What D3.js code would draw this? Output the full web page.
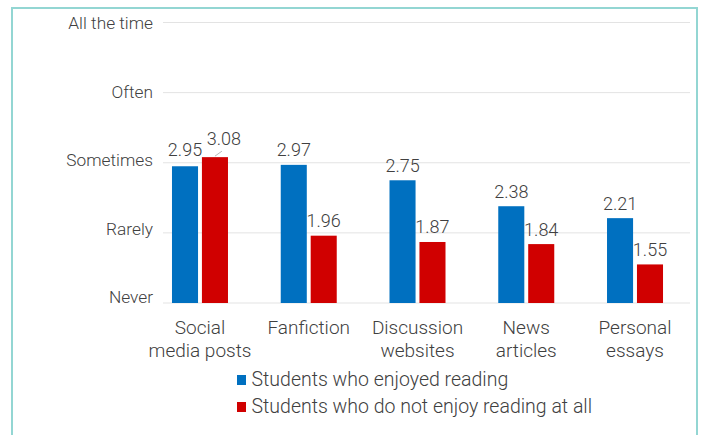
<!DOCTYPE html>
<html>
<head>
<meta charset="utf-8">
<script src="https://cdn.jsdelivr.net/npm/d3@7"></script>
<style>
  body { margin: 0; background: #fff; }
  text { font-family: Roboto, "Noto Sans", sans-serif; font-weight: 300; fill: #404040; }
</style>
</head>
<body>
<script>
// categories and series
var categories = [["Social", "media posts"], ["Fanfiction"], ["Discussion", "websites"], ["News", "articles"], ["Personal", "essays"]];
var enjoyed = [2.95, 2.97, 2.75, 2.38, 2.21];
var notEnjoy = [3.08, 1.96, 1.87, 1.84, 1.55];
var seriesNames = ["Students who enjoyed reading", "Students who do not enjoy reading at all"];
var seriesColors = ["#0070c0", "#d00000"];
var tickValues = [1, 2, 3, 4, 5];
var tickLabels = ["Never", "Rarely", "Sometimes", "Often", "All the time"];

var width = 702, height = 435;

var svg = d3.select("body").append("svg")
    .attr("width", width)
    .attr("height", height);

// outer frame
svg.append("rect")
    .attr("x", 12).attr("y", 8)
    .attr("width", 685).attr("height", 440)
    .attr("fill", "none")
    .attr("stroke", "#93d6d3")
    .attr("stroke-width", 2);

var y = d3.scaleLinear().domain([1, 5]).range([303, 22.5]);
// tick labels sit on a slightly tighter spacing than the gridlines
var yLab = d3.scaleLinear().domain([1, 5]).range([297, 23]);
var x = d3.scaleBand().domain(d3.range(categories.length)).range([145.6, 689.4]);
var inner = d3.scaleBand().domain([0, 1]).range([0, 56]).paddingInner(0.13);

// gridlines
svg.selectAll(".grid")
    .data(tickValues)
    .enter().append("line")
    .attr("x1", 163).attr("x2", 690)
    .attr("y1", function(d) { return y(d); })
    .attr("y2", function(d) { return y(d); })
    .attr("stroke", "#e3e3e3")
    .attr("stroke-width", 1);

// y tick labels
svg.selectAll(".ylab")
    .data(tickValues)
    .enter().append("text")
    .attr("x", 153)
    .attr("y", function(d) { return yLab(d); })
    .attr("dy", "0.35em")
    .attr("text-anchor", "end")
    .style("font-size", "17.3px")
    .text(function(d, i) { return tickLabels[i]; });

var series = [enjoyed, notEnjoy];
var bars = [];
series.forEach(function(vals, s) {
  vals.forEach(function(v, i) {
    bars.push({ s: s, i: i, v: v });
  });
});

function barX(d) { return x(d.i) + x.bandwidth() / 2 - 28 + inner(d.s); }

svg.selectAll(".bar")
    .data(bars)
    .enter().append("rect")
    .attr("x", barX)
    .attr("y", function(d) { return y(d.v); })
    .attr("width", inner.bandwidth())
    .attr("height", function(d) { return y(1) - y(d.v); })
    .attr("fill", function(d) { return seriesColors[d.s]; });

// value labels (the crowded one in the first group gets a leader line)
bars.forEach(function(d) {
  var cx = barX(d) + inner.bandwidth() / 2;
  var ty = y(d.v) - 8.5;
  if (d.i == 0 && d.s == 1) {
    svg.append("line")
      .attr("x1", cx).attr("y1", y(d.v) - 1)
      .attr("x2", cx + 7).attr("y2", y(d.v) - 6)
      .attr("stroke", "#a6a6a6").attr("stroke-width", 0.8);
    cx = cx + 9;
    ty = y(d.v) - 12;
  } else if (d.i == 0) {
    ty = y(d.v) - 10;
  }
  svg.append("text")
    .attr("x", cx)
    .attr("y", ty)
    .attr("text-anchor", "middle")
    .style("font-size", "18px")
    .text(d.v.toFixed(2));
});

// category labels
categories.forEach(function(lines, i) {
  var t = svg.append("text")
    .attr("x", x(i) + x.bandwidth() / 2)
    .attr("y", 334)
    .attr("text-anchor", "middle")
    .style("font-size", "19px");
  lines.forEach(function(l, k) {
    t.append("tspan")
      .attr("x", x(i) + x.bandwidth() / 2)
      .attr("dy", k == 0 ? 0 : 23)
      .text(l);
  });
});

// legend
seriesNames.forEach(function(name, s) {
  var ly = 380 + s * 27;
  svg.append("rect")
    .attr("x", 237).attr("y", ly - 5)
    .attr("width", 9).attr("height", 10)
    .attr("fill", seriesColors[s]);
  svg.append("text")
    .attr("x", 251.5).attr("y", ly + 6)
    .style("font-size", "19.5px")
    .text(name);
});
</script>
</body>
</html>
